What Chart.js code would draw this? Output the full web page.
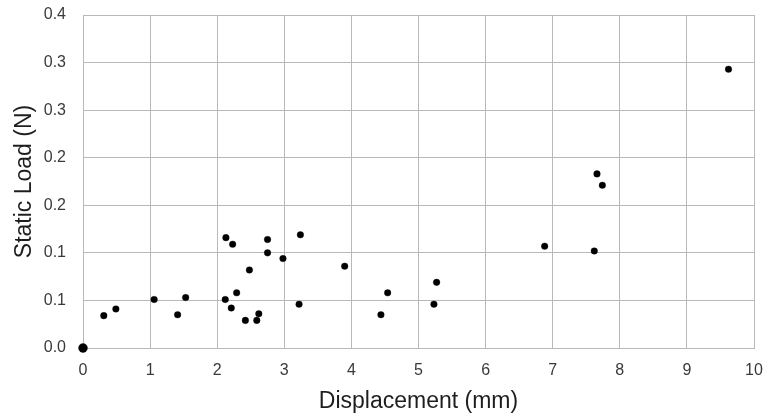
<!DOCTYPE html>
<html>
<head>
<meta charset="utf-8">
<script src="https://cdn.jsdelivr.net/npm/chart.js@4/dist/chart.umd.min.js"></script>
<style>
  html, body { margin: 0; padding: 0; background: #fff; }
  #wrap { width: 763px; height: 414px; }
</style>
</head>
<body>
<div id="wrap"><canvas id="loadChart"></canvas></div>
<script>
// Displacement (mm) and static load (N)
const displacement = [0, 0.31, 0.49, 1.06, 1.41, 1.53, 2.13, 2.23, 2.12, 2.21,
  2.29, 2.42, 2.48, 2.59, 2.62, 2.75, 2.75, 2.98, 3.24, 3.22,
  3.90, 4.44, 4.54, 5.23, 5.27, 6.88, 7.66, 7.74, 7.62, 9.62];
const staticLoad = [0, 0.034, 0.041, 0.051, 0.035, 0.053, 0.116, 0.109, 0.051, 0.042,
  0.058, 0.029, 0.082, 0.029, 0.036, 0.114, 0.100, 0.094, 0.119, 0.046,
  0.086, 0.035, 0.058, 0.046, 0.069, 0.107, 0.183, 0.171, 0.102, 0.293];

// y ticks as printed on the original (rounded to one decimal)
const yTickLabels = ['0.0', '0.1', '0.1', '0.2', '0.2', '0.3', '0.3', '0.4'];
const xTickLabels = ['0', '1', '2', '3', '4', '5', '6', '7', '8', '9', '10'];

const points = displacement.map(function(x, i) { return { x: x, y: staticLoad[i] }; });

const gridColor = '#b9b9b9';
const fontFamily = '"Liberation Sans", Arial, Helvetica, sans-serif';

// drop the automatic room Chart.js keeps for the end tick labels
function noEdgePadding(scale) {
  scale.paddingTop = 0;
  scale.paddingRight = 0;
  scale.paddingBottom = 0;
  scale.paddingLeft = 0;
}

new Chart(document.getElementById('loadChart').getContext('2d'), {
  type: 'scatter',
  data: {
    datasets: [{
      label: 'Static Load',
      data: points,
      clip: false,
      backgroundColor: '#000',
      borderColor: 'rgba(0,0,0,0.35)',
      borderWidth: 1,
      pointRadius: function(ctx) { return ctx.raw && ctx.raw.x === 0 ? 4.5 : 3.3; }
    }]
  },
  options: {
    responsive: true,
    maintainAspectRatio: false,
    animation: false,
    layout: { padding: { top: 15, right: 9, left: 0, bottom: 0 } },
    plugins: {
      legend: { display: false },
      tooltip: { enabled: false }
    },
    scales: {
      x: {
        type: 'linear',
        min: 0,
        max: 10,
        ticks: {
          stepSize: 1,
          padding: 13,
          color: '#3a3a3a',
          font: { family: fontFamily, size: 16 },
          callback: function(val, i) { return xTickLabels[i]; }
        },
        grid: { color: gridColor, drawTicks: false },
        border: { color: gridColor },
        title: {
          display: true,
          text: 'Displacement (mm)',
          color: '#1e1e1e',
          font: { family: fontFamily, size: 23, lineHeight: 1 },
          padding: { top: 0, bottom: 1 }
        },
        afterFit: function(scale) { scale.height = 66; noEdgePadding(scale); }
      },
      y: {
        type: 'linear',
        min: 0,
        max: 0.35,
        ticks: {
          stepSize: 0.05,
          padding: 17,
          color: '#3a3a3a',
          font: { family: fontFamily, size: 16 },
          callback: function(val, i) { return yTickLabels[i]; }
        },
        grid: { color: gridColor, drawTicks: false },
        border: { color: gridColor },
        title: {
          display: true,
          text: 'Static Load (N)',
          color: '#1e1e1e',
          font: { family: fontFamily, size: 23, lineHeight: 1 },
          padding: { top: 13, bottom: 0 }
        },
        afterFit: function(scale) { scale.width = 83; noEdgePadding(scale); }
      }
    }
  }
});
</script>
</body>
</html>
